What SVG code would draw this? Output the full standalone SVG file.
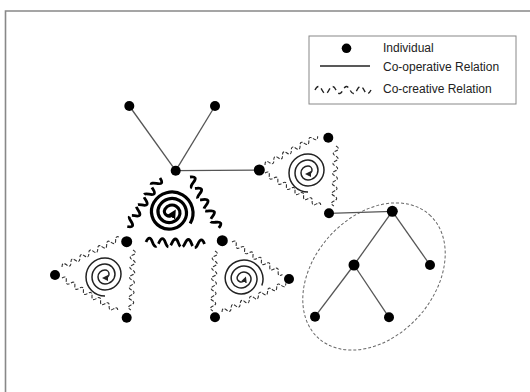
<svg xmlns="http://www.w3.org/2000/svg" xmlns:xlink="http://www.w3.org/1999/xlink" width="530" height="392" viewBox="0 0 530 392">
<style>
.node{fill:#000}
.coop{stroke:#555;stroke-width:1.3;fill:none}
.wave{stroke:#333;stroke-width:1.1;fill:none;stroke-dasharray:3.5 1.5}
.wthick{stroke:#000;stroke-width:2.8;fill:none;stroke-dasharray:17 3}
.spiral{stroke:#222;stroke-width:1.5;fill:none}
.bspiral{stroke:#000;stroke-width:3.2;fill:none}
.lbl{font-family:"Liberation Sans",Arial,sans-serif;font-size:12px;fill:#222}
</style>
<defs>
<marker id="ah" markerUnits="userSpaceOnUse" markerWidth="6" markerHeight="6" refX="3" refY="3" orient="auto"><path d="M0,0 L6,3 L0,6 z" fill="#222"/></marker>
<marker id="ahb" markerUnits="userSpaceOnUse" markerWidth="9" markerHeight="9" refX="4" refY="4.5" orient="auto"><path d="M0,0 L9,4.5 L0,9 z" fill="#000"/></marker>
<path id="w12" d="M0,0q2.5,-5 5,0t5,0t5,0t5,0t5,0t5,0t5,0t5,0t5,0t5,0t5,0t5,0"/>
<path id="w13" d="M0,0q2.5,-5 5,0t5,0t5,0t5,0t5,0t5,0t5,0t5,0t5,0t5,0t5,0t5,0t5,0"/>
<path id="w14" d="M0,0q2.5,-5 5,0t5,0t5,0t5,0t5,0t5,0t5,0t5,0t5,0t5,0t5,0t5,0t5,0t5,0"/>
<path id="t9" d="M0,0q3.25,-8 6.5,0t6.5,0t6.5,0t6.5,0t6.5,0t6.5,0t6.5,0t6.5,0t6.5,0"/>
<path id="sp" d="M19,0 A19,19 0 0 0 -19,0 A16,16 0 0 0 13,0 A13,13 0 0 0 -13,0 A10,10 0 0 0 7,0 A7,7 0 0 0 -7,0 A4,4 0 0 0 1,0" marker-end="url(#ah)"/>
<path id="bsp" d="M21,0 A21,21 0 0 0 -21,0 A17.75,17.75 0 0 0 14.5,0 A14.5,14.5 0 0 0 -14.5,0 A11.25,11.25 0 0 0 8,0 A8,8 0 0 0 -8,0 A4.75,4.75 0 0 0 1.5,0" marker-end="url(#ahb)"/>
</defs>
<rect width="530" height="392" fill="#fff"/>
<path d="M5.5,392 V11 H530" fill="none" stroke="#888" stroke-width="1.6"/>

<g id="legend">
<rect x="309" y="36" width="207" height="68" fill="#fff" stroke="#888" stroke-width="1"/>
<circle cx="346.5" cy="48.3" r="4.8" class="node"/>
<line x1="320" y1="66" x2="370" y2="66" stroke="#222" stroke-width="1.3"/>
<path d="M0,0q3.5,-7 7,0t7,0t7,0t7,0t7,0t7,0t7,0t7,0" transform="translate(315,90)" fill="none" stroke="#222" stroke-width="1.4" stroke-dasharray="5 3.6"/>
<text class="lbl" x="383" y="52">Individual</text>
<text class="lbl" x="383" y="71">Co-operative Relation</text>
<text class="lbl" x="383" y="93">Co-creative Relation</text>
</g>

<ellipse id="group-ellipse" cx="374" cy="276.5" rx="83" ry="60" transform="rotate(-48 374 276.5)" fill="none" stroke="#666" stroke-width="1" stroke-dasharray="3 2"/>

<g id="connectors">
<line class="coop" x1="175.7" y1="170.7" x2="129.3" y2="106"/>
<line class="coop" x1="175.7" y1="170.7" x2="215" y2="106"/>
<line class="coop" x1="175.7" y1="170.7" x2="259.3" y2="170"/>
<line class="coop" x1="329" y1="213.3" x2="392.3" y2="211.3"/>
<line class="coop" x1="392.3" y1="211.3" x2="354" y2="265"/>
<line class="coop" x1="392.3" y1="211.3" x2="430" y2="265"/>
<line class="coop" x1="354" y1="265" x2="315" y2="316.7"/>
<line class="coop" x1="354" y1="265" x2="389" y2="317.3"/>
<use href="#w12" class="wave" transform="translate(265,165) rotate(-28.7)"/>
<use href="#w12" class="wave" transform="translate(336,146) rotate(92)"/>
<use href="#w13" class="wave" transform="translate(265,173) rotate(31)"/>
<use href="#w13" class="wave" transform="translate(62,267) rotate(-26.6)"/>
<use href="#w12" class="wave" transform="translate(133,250) rotate(92)"/>
<use href="#w13" class="wave" transform="translate(62,278) rotate(31)"/>
<use href="#w12" class="wave" transform="translate(232,242) rotate(32.8)"/>
<use href="#w12" class="wave" transform="translate(215,251) rotate(92)"/>
<use href="#w14" class="wave" transform="translate(222,312) rotate(-24.2)"/>
<use href="#t9" class="wthick" transform="translate(160,178) rotate(124)"/>
<use href="#t9" class="wthick" transform="translate(190,177) rotate(60.5)"/>
<use href="#t9" class="wthick" transform="translate(146,242) rotate(2)"/>
</g>

<g id="spirals">
<use href="#bsp" class="bspiral" transform="translate(172,213) rotate(30)"/>
<use href="#sp" class="spiral" transform="translate(308,173) rotate(90) scale(1,-1)"/>
<use href="#sp" class="spiral" transform="translate(105,277) rotate(90) scale(1,-1)"/>
<use href="#sp" class="spiral" transform="translate(244,279) rotate(20)"/>
</g>

<g id="n-top-left"><circle class="node" cx="129.3" cy="106" r="5"/></g>
<g id="n-top-right"><circle class="node" cx="215" cy="106" r="5"/></g>
<g id="n-hub"><circle class="node" cx="175.7" cy="170.7" r="5"/></g>
<g id="n-c-bl"><circle class="node" cx="126.7" cy="241.7" r="5.5"/></g>
<g id="n-c-br"><circle class="node" cx="222.3" cy="240.7" r="5.5"/></g>
<g id="n-rt-l"><circle class="node" cx="259.3" cy="170" r="5.5"/></g>
<g id="n-rt-t"><circle class="node" cx="328.3" cy="137.7" r="5"/></g>
<g id="n-rt-b"><circle class="node" cx="329" cy="213.3" r="5"/></g>
<g id="n-ll-l"><circle class="node" cx="55" cy="275" r="5"/></g>
<g id="n-ll-b"><circle class="node" cx="126.7" cy="317.7" r="5"/></g>
<g id="n-rl-r"><circle class="node" cx="289" cy="279" r="5"/></g>
<g id="n-rl-b"><circle class="node" cx="215" cy="317.3" r="5"/></g>
<g id="n-tree-root"><circle class="node" cx="392.3" cy="211.3" r="5.5"/></g>
<g id="n-tree-mid"><circle class="node" cx="354" cy="265" r="5.5"/></g>
<g id="n-tree-right"><circle class="node" cx="430" cy="265" r="5"/></g>
<g id="n-tree-bl"><circle class="node" cx="315" cy="316.7" r="5"/></g>
<g id="n-tree-br"><circle class="node" cx="389" cy="317.3" r="5"/></g>
</svg>
